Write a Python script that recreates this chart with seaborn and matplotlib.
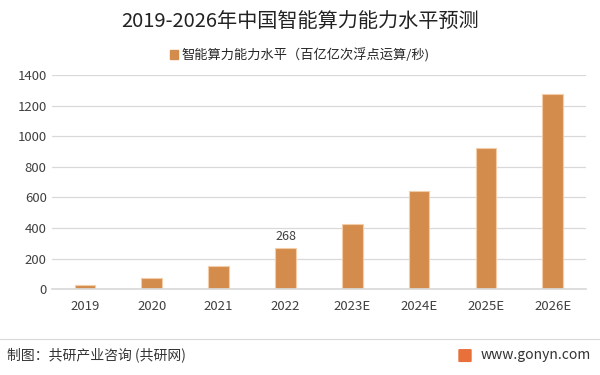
import matplotlib
matplotlib.use('Agg')
import matplotlib.pyplot as plt
import matplotlib.patches as mpatches
import seaborn as sns
import pandas as pd

years = ['2019', '2020', '2021', '2022', '2023E', '2024E', '2025E', '2026E']
values = [28, 72, 150, 268, 425, 640, 921, 1274]
shown_labels = ['', '', '', '268', '', '', '', '']
series_name = '智能算力能力水平（百亿亿次浮点运算/秒)'

df = pd.DataFrame({'year': years, 'value': values})

sns.set_theme(style='white')
plt.rcParams['font.family'] = ['Noto Sans CJK SC', 'DejaVu Sans']

fig = plt.figure(figsize=(6, 3.75), dpi=100)
ax = fig.add_axes([0.086, 0.2285, 0.891, 0.5715])

bar_color = '#D48C4C'
sns.barplot(data=df, x='year', y='value', color=bar_color, width=0.31,
            edgecolor='#F2CDA8', linewidth=0.8, saturation=1, ax=ax)

ax.bar_label(ax.containers[0], labels=shown_labels, padding=4, fontsize=9, color='#404040')

ax.set_ylim(0, 1400)
ax.set_yticks(range(0, 1401, 200))
ax.yaxis.grid(True, color='#D9D9D9', linewidth=0.9)
ax.set_axisbelow(True)
for s in ['top', 'right', 'left']:
    ax.spines[s].set_visible(False)
ax.spines['bottom'].set_color('#D9D9D9')
ax.set_xlabel('')
ax.set_ylabel('')
ax.tick_params(axis='both', length=0, labelsize=9.5, colors='#404040')
ax.tick_params(axis='x', pad=8)

fig.text(0.5, 0.94, '2019-2026年中国智能算力能力水平预测', ha='center', va='center',
         fontsize=14.5, color='#222222')

handle = mpatches.Patch(color=bar_color, label=series_name)
fig.legend(handles=[handle], loc='center', bbox_to_anchor=(0.5, 0.853), frameon=False,
           fontsize=9.5, handlelength=0.6, handleheight=0.6, handletextpad=0.3)

# footer
fig.add_artist(plt.Line2D([0, 1], [1 - 339 / 375, 1 - 339 / 375], color='#D9D9D9', linewidth=0.8))
fig.text(0.012, 1 - 355 / 375, '制图：共研产业咨询 (共研网)', ha='left', va='center',
         fontsize=10, color='#333333')
fig.text(0.985, 1 - 355 / 375, 'www.gonyn.com', ha='right', va='center',
         fontsize=10, color='#333333')
fig.add_artist(mpatches.FancyBboxPatch((0.766, 1 - 361 / 375), 0.018, 0.029,
                                       boxstyle='round,pad=0.001', color='#E8703A'))

fig.savefig('out.png', dpi=100)
